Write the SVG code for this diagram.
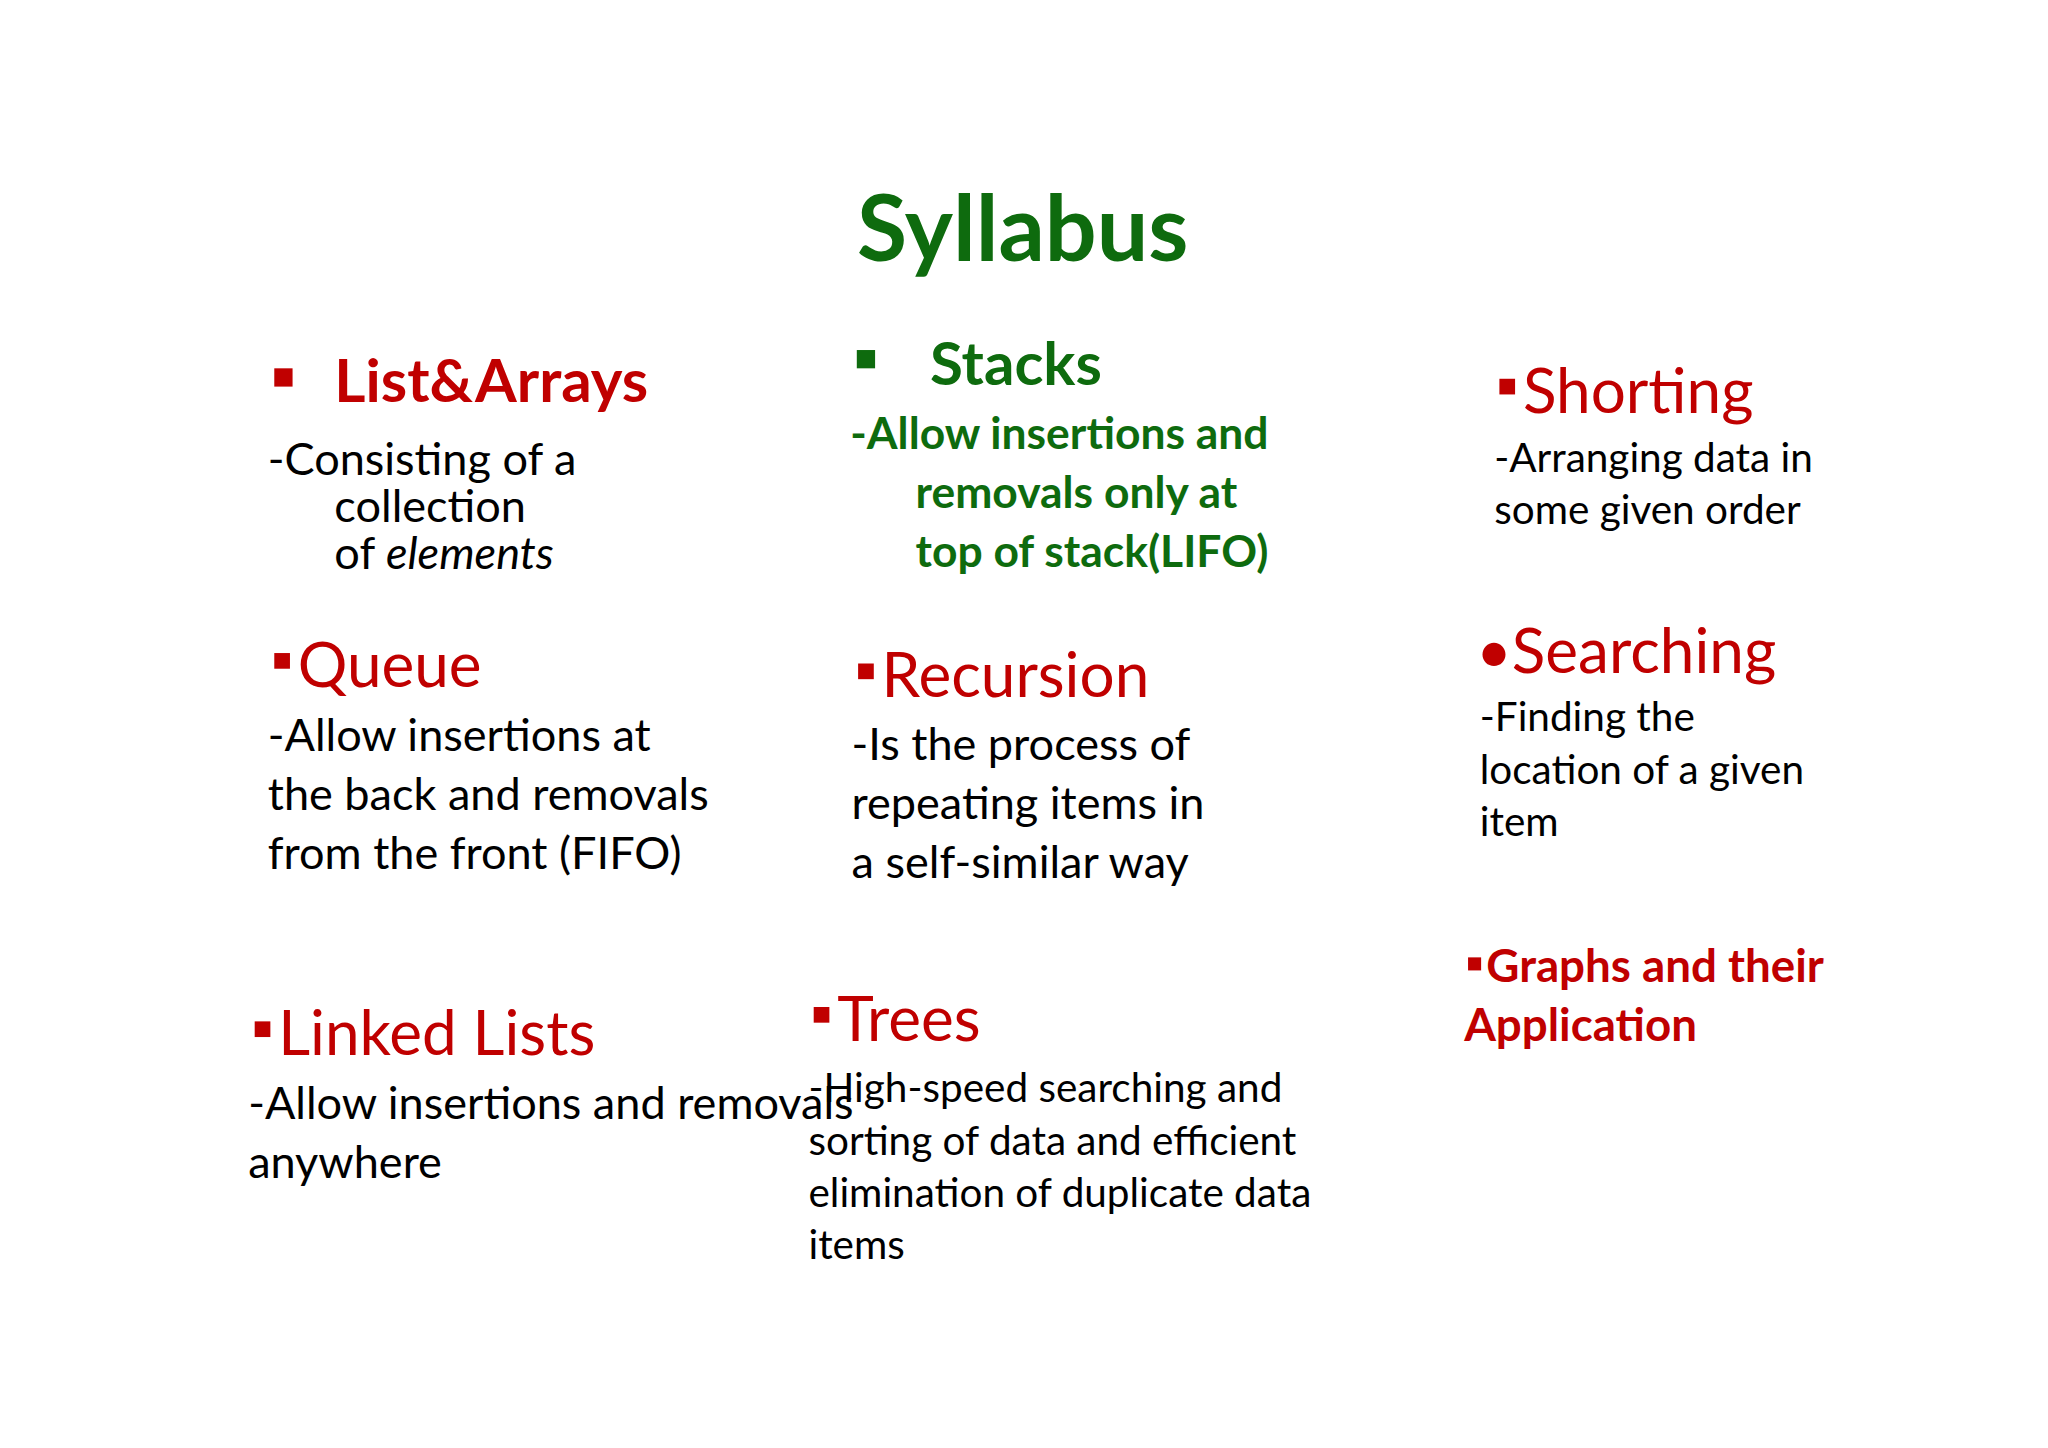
<svg xmlns="http://www.w3.org/2000/svg" width="2048" height="1448" viewBox="0 0 2048 1448">
<style>
text{font-family:Lato,"Open Sans","Liberation Sans",sans-serif}
.r{fill:#c00000}.g{fill:#0e6b0e}.k{fill:#000}
.h{font-size:47.5px}.hb{font-size:46px;font-weight:bold}
.b{font-size:34.5px}.s{font-size:31px}.gb{font-size:34px;font-weight:bold}.rb{font-size:35px;font-weight:bold}
</style>
<rect width="2048" height="1448" fill="#fff"/>
<g transform="scale(1.3061)">
<g id="title"><text x="783" y="200" text-anchor="middle" class="g" font-size="70" font-weight="bold">Syllabus</text></g>
<g id="lists-arrays"><rect x="210" y="282" width="14" height="14" class="r"/><text x="256" y="308" class="r hb">List&amp;Arrays</text>
<text class="k b"><tspan x="205" y="364">-Consisting of a</tspan><tspan x="256" y="400">collection</tspan><tspan x="256" y="436">of <tspan font-style="italic">elements</tspan></tspan></text></g>
<g id="stacks"><rect x="656" y="268" width="14" height="14" class="g"/><text x="712" y="295" class="g hb">Stacks</text>
<text class="g gb"><tspan x="651" y="344">-Allow insertions and</tspan><tspan x="701" y="389">removals only at</tspan><tspan x="701" y="434">top of stack(LIFO)</tspan></text></g>
<g id="shorting"><rect x="1148" y="290" width="12" height="12" class="r"/><text x="1166" y="316" class="r h">Shorting</text>
<text class="k s"><tspan x="1144" y="361">-Arranging data in</tspan><tspan x="1144" y="401">some given order</tspan></text></g>
<g id="queue"><rect x="210" y="500" width="12" height="12" class="r"/><text x="228" y="526" class="r h">Queue</text>
<text class="k b"><tspan x="205" y="575">-Allow insertions at</tspan><tspan x="205" y="620">the back and removals</tspan><tspan x="205" y="665">from the front  (FIFO)</tspan></text></g>
<g id="recursion"><rect x="657" y="508" width="12" height="12" class="r"/><text x="675" y="534" class="r h">Recursion</text>
<text class="k b"><tspan x="652" y="582">-Is the process of</tspan><tspan x="652" y="627">repeating items in</tspan><tspan x="652" y="672">a self-similar way</tspan></text></g>
<g id="searching"><text x="1130" y="515" class="r h">•Searching</text>
<text class="k s"><tspan x="1133" y="560">-Finding the</tspan><tspan x="1133" y="600">location of a given</tspan><tspan x="1133" y="640">item</tspan></text></g>
<g id="graphs"><rect x="1124" y="733" width="10" height="10" class="r"/><text class="r rb"><tspan x="1138" y="752">Graphs and their</tspan><tspan x="1121" y="797">Application</tspan></text></g>
<g id="linked-lists"><rect x="195" y="782" width="12" height="12" class="r"/><text x="213" y="808" class="r h">Linked Lists</text>
<text class="k b"><tspan x="190" y="857">-Allow insertions and removals</tspan><tspan x="190" y="902">anywhere</tspan></text></g>
<g id="trees"><rect x="623" y="771" width="12" height="12" class="r"/><text x="641" y="797" class="r h">Trees</text>
<text class="k s" font-size="31.5"><tspan x="619" y="844">-High-speed searching and</tspan><tspan x="619" y="884">sorting of data and efficient</tspan><tspan x="619" y="924">elimination of duplicate data</tspan><tspan x="619" y="964">items</tspan></text></g>
<g id="connectors"/>
</g>
</svg>
